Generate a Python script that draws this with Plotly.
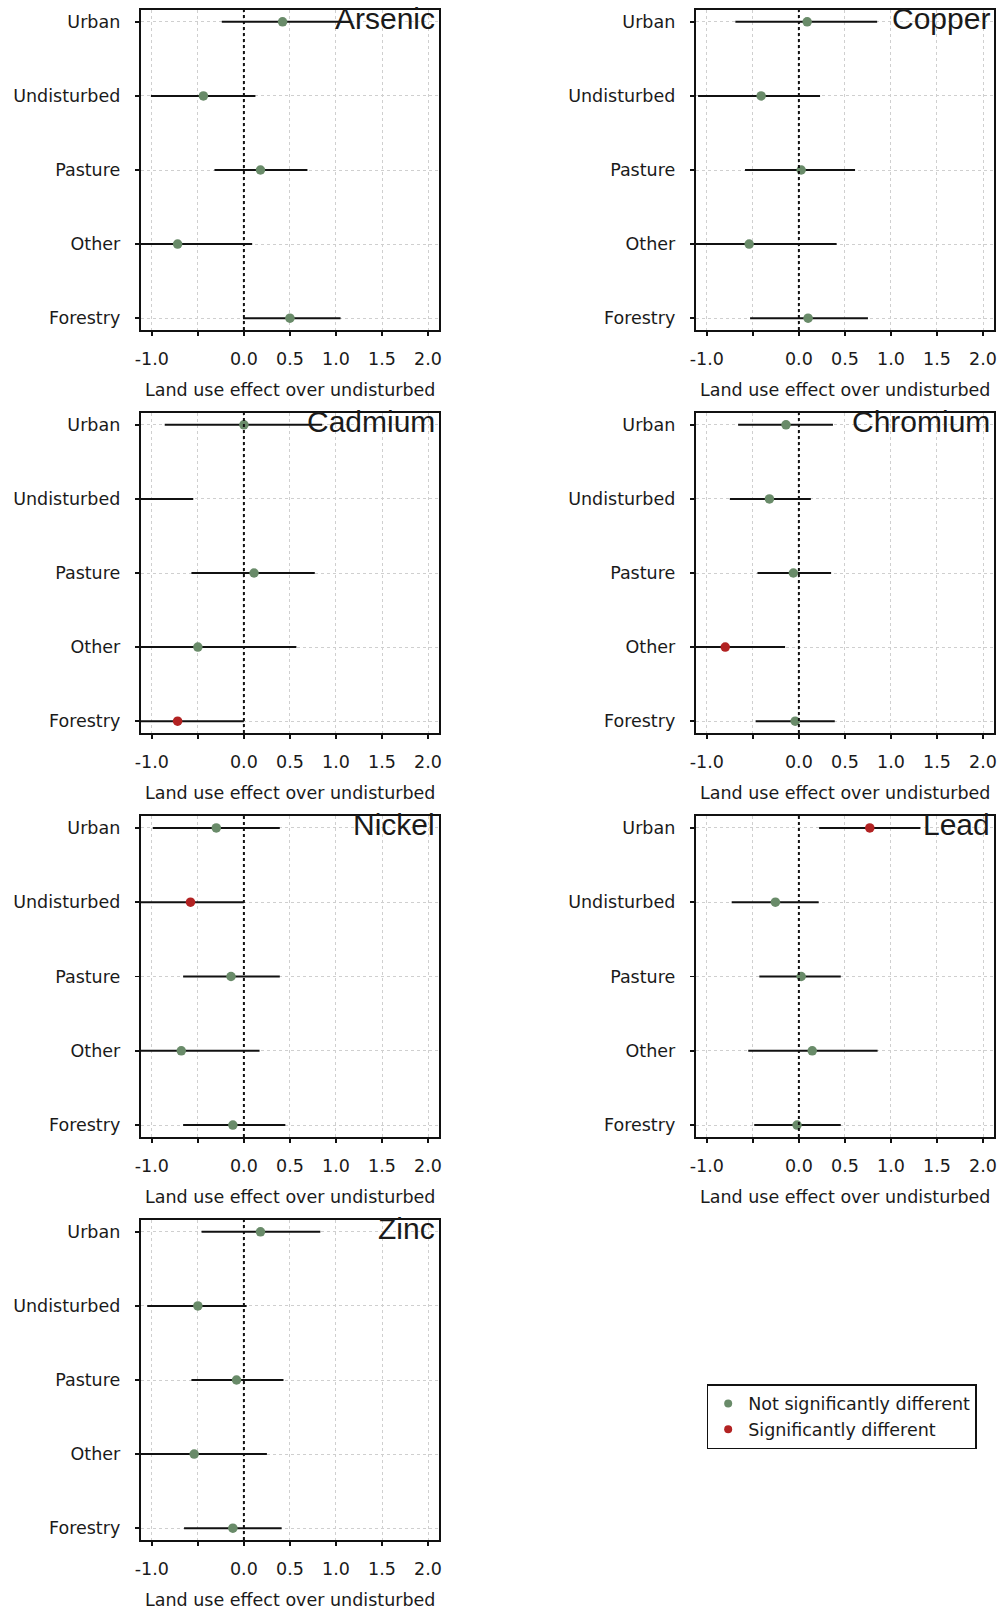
import plotly.graph_objects as go

# ---------------- data ----------------
categories = ["Urban", "Undisturbed", "Pasture", "Other", "Forestry"]
axis_order = ["Forestry", "Other", "Pasture", "Undisturbed", "Urban"]

metals = ["Arsenic", "Copper", "Cadmium", "Chromium", "Nickel", "Lead", "Zinc"]

arsenic_mean = [0.42, -0.44, 0.18, -0.72, 0.50]
arsenic_low = [-0.24, -1.01, -0.32, -1.53, -0.01]
arsenic_high = [1.05, 0.125, 0.69, 0.09, 1.05]
arsenic_sig = [0, 0, 0, 0, 0]

copper_mean = [0.09, -0.41, 0.025, -0.54, 0.10]
copper_low = [-0.69, -1.095, -0.585, -1.50, -0.53]
copper_high = [0.85, 0.23, 0.61, 0.41, 0.75]
copper_sig = [0, 0, 0, 0, 0]

cadmium_mean = [0.0, -1.35, 0.11, -0.50, -0.72]
cadmium_low = [-0.86, -2.15, -0.57, -1.56, -1.44]
cadmium_high = [0.85, -0.55, 0.77, 0.57, 0.0]
cadmium_sig = [0, 0, 0, 0, 1]

chromium_mean = [-0.14, -0.32, -0.06, -0.80, -0.04]
chromium_low = [-0.66, -0.75, -0.45, -1.45, -0.47]
chromium_high = [0.37, 0.13, 0.35, -0.15, 0.39]
chromium_sig = [0, 0, 0, 1, 0]

nickel_mean = [-0.30, -0.58, -0.14, -0.68, -0.12]
nickel_low = [-0.99, -1.16, -0.66, -1.53, -0.66]
nickel_high = [0.39, 0.0, 0.39, 0.17, 0.45]
nickel_sig = [0, 1, 0, 0, 0]

lead_mean = [0.77, -0.255, 0.025, 0.145, -0.02]
lead_low = [0.22, -0.73, -0.43, -0.55, -0.485]
lead_high = [1.32, 0.215, 0.455, 0.855, 0.455]
lead_sig = [1, 0, 0, 0, 0]

zinc_mean = [0.18, -0.50, -0.08, -0.54, -0.12]
zinc_low = [-0.46, -1.05, -0.57, -1.33, -0.65]
zinc_high = [0.83, 0.03, 0.43, 0.25, 0.41]
zinc_sig = [0, 0, 0, 0, 0]

x_tickvals = [-1.0, -0.5, 0.0, 0.5, 1.0, 1.5, 2.0]
x_ticktext = ["-1.0", "", "0.0", "0.5", "1.0", "1.5", "2.0"]
x_title = "Land use effect over undisturbed"
legend_labels = ["Not significantly different", "Significantly different"]

data = {
    "Arsenic": (arsenic_mean, arsenic_low, arsenic_high, arsenic_sig),
    "Copper": (copper_mean, copper_low, copper_high, copper_sig),
    "Cadmium": (cadmium_mean, cadmium_low, cadmium_high, cadmium_sig),
    "Chromium": (chromium_mean, chromium_low, chromium_high, chromium_sig),
    "Nickel": (nickel_mean, nickel_low, nickel_high, nickel_sig),
    "Lead": (lead_mean, lead_low, lead_high, lead_sig),
    "Zinc": (zinc_mean, zinc_low, zinc_high, zinc_sig),
}

# ---------------- style ----------------
W, H = 1005, 1611
GREEN = "#698B69"
RED = "#B22222"
TXT = "#1a1a1a"
FONT = "DejaVu Sans"
FS = 17.5

col_px = [(136, 437), (696, 997)]
row_px = [(10, 330), (413, 733), (816, 1137), (1220, 1540)]

fig = go.Figure()
layout = dict(
    width=W, height=H,
    margin=dict(l=0, r=0, t=0, b=0),
    paper_bgcolor="white", plot_bgcolor="white",
    font=dict(family=FONT, size=FS, color=TXT),
    showlegend=True,
)
annotations = []
shapes = []

for i, metal in enumerate(metals):
    r, c = divmod(i, 2)
    idx = "" if i == 0 else str(i + 1)
    xa, ya = "x" + idx, "y" + idx
    mean, low, high, sig = data[metal]
    colors = [RED if s else GREEN for s in sig]
    fig.add_trace(go.Scatter(
        x=mean, y=categories, mode="markers",
        marker=dict(size=9.5, color=colors),
        error_x=dict(type="data", symmetric=False,
                     array=[h - m for h, m in zip(high, mean)],
                     arrayminus=[m - l for m, l in zip(mean, low)],
                     width=0, thickness=2, color="#111111"),
        xaxis=xa, yaxis=ya, showlegend=False, hoverinfo="skip",
    ))
    x0, x1 = col_px[c]
    y0, y1 = row_px[r]
    xdom = [x0 / W, x1 / W]
    ydom = [1 - y1 / H, 1 - y0 / H]
    layout["xaxis" + idx] = dict(
        domain=xdom, anchor=ya, range=[-1.12, 2.12],
        tickvals=x_tickvals, ticktext=x_ticktext,
        showgrid=True, gridcolor="#cfcfcf", gridwidth=1, griddash="dot",
        zeroline=False, showline=True, mirror=True, linecolor="#111111", linewidth=2,
        ticks="outside", ticklen=4, tickwidth=1.5, tickcolor="#111111",
        ticklabelstandoff=8, tickfont=dict(family=FONT, size=FS, color=TXT),
        fixedrange=True,
    )
    layout["yaxis" + idx] = dict(
        domain=ydom, anchor=xa, type="category",
        categoryorder="array", categoryarray=axis_order, range=[-0.16, 4.16],
        showgrid=True, gridcolor="#cfcfcf", gridwidth=1, griddash="dot",
        zeroline=False, showline=True, mirror=True, linecolor="#111111", linewidth=2,
        ticks="outside", ticklen=4, tickwidth=1.5, tickcolor="#111111",
        ticklabelstandoff=11, tickfont=dict(family=FONT, size=FS, color=TXT),
        fixedrange=True,
    )
    shapes.append(dict(type="line", xref=xa, yref=ya + " domain",
                       x0=0, x1=0, y0=0, y1=1,
                       line=dict(color="#111111", width=2, dash="dot"), layer="above"))
    annotations.append(dict(
        xref=xa + " domain", yref=ya + " domain", x=1, y=1,
        xanchor="right", yanchor="top", xshift=-3, yshift=9,
        text=metal, showarrow=False, borderpad=0,
        font=dict(family="Liberation Sans", size=30, color=TXT),
    ))
    annotations.append(dict(
        xref="paper", yref="paper", x=(xdom[0] + xdom[1]) / 2, y=1 - (y1 + 60) / H,
        xanchor="center", yanchor="middle", text=x_title, showarrow=False,
        font=dict(family=FONT, size=FS, color=TXT),
    ))

# legend entries
for lab, col in zip(legend_labels, [GREEN, RED]):
    fig.add_trace(go.Scatter(
        x=[None], y=[None], mode="markers", name=lab,
        marker=dict(size=8, color=col), xaxis="x", yaxis="y",
    ))

layout["legend"] = dict(
    x=707 / W, y=1 - 1384 / H, xanchor="left", yanchor="top",
    bordercolor="#111111", borderwidth=1.5, bgcolor="white",
    font=dict(family=FONT, size=FS, color=TXT),
    itemwidth=30,
)
layout["annotations"] = annotations
layout["shapes"] = shapes
fig.update_layout(**layout)
fig.write_html(
    "out.html",
    config={"displayModeBar": False, "staticPlot": True},
    post_script="document.body.style.margin='0';document.body.style.padding='0';"
                "document.body.style.overflow='hidden';",
)
